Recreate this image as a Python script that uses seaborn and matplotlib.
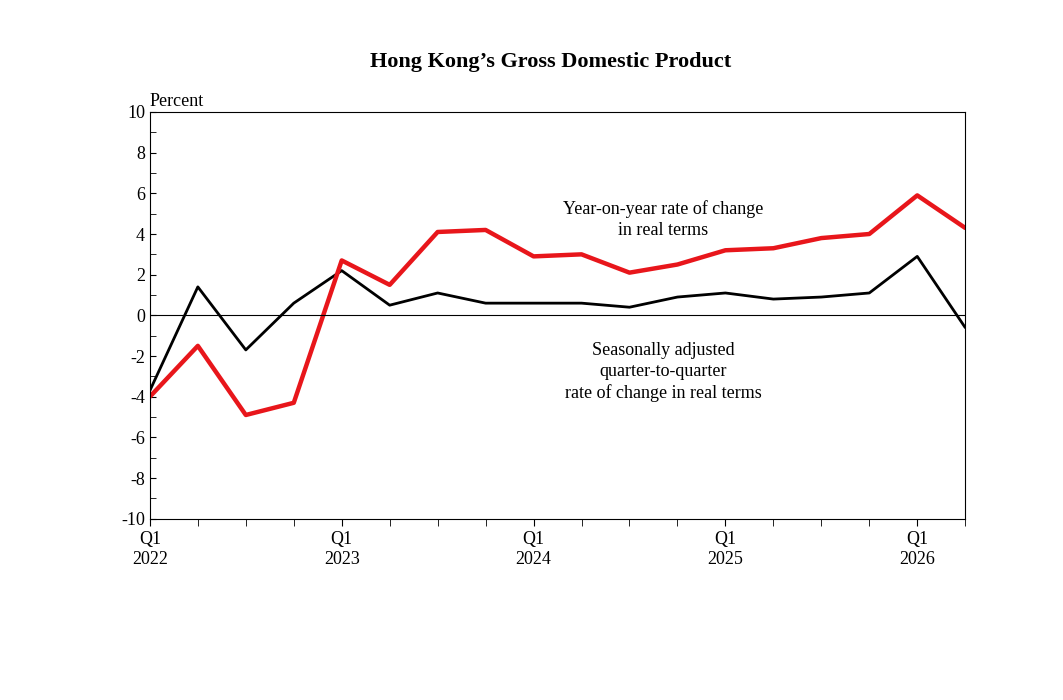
import numpy as np
import pandas as pd
import seaborn as sns
import matplotlib.pyplot as plt
from matplotlib.ticker import MultipleLocator

quarters = ["2022Q1", "2022Q2", "2022Q3", "2022Q4", "2023Q1", "2023Q2", "2023Q3", "2023Q4",
            "2024Q1", "2024Q2", "2024Q3", "2024Q4", "2025Q1", "2025Q2", "2025Q3", "2025Q4",
            "2026Q1", "2026Q2"]
yoy = [-4.0, -1.5, -4.9, -4.3, 2.7, 1.5, 4.1, 4.2, 2.9, 3.0, 2.1, 2.5, 3.2, 3.3, 3.8, 4.0, 5.9, 4.3]
qoq = [-3.7, 1.4, -1.7, 0.6, 2.2, 0.5, 1.1, 0.6, 0.6, 0.6, 0.4, 0.9, 1.1, 0.8, 0.9, 1.1, 2.9, -0.6]
tick_labels = ["Q1\n2022", "Q1\n2023", "Q1\n2024", "Q1\n2025", "Q1\n2026"]

sns.set_style("white")
plt.rcParams['font.family'] = ['Liberation Serif', 'DejaVu Serif']
plt.rcParams['axes.unicode_minus'] = False
plt.rcParams['text.color'] = 'black'
plt.rcParams['xtick.color'] = 'black'
plt.rcParams['ytick.color'] = 'black'

df = pd.DataFrame({"idx": np.arange(len(quarters)), "yoy": yoy, "qoq": qoq})

fig = plt.figure(figsize=(10.63, 7), dpi=100)
ax = fig.add_axes([0.141, 0.259, 0.767, 0.581])
sns.lineplot(data=df, x="idx", y="qoq", color="black", linewidth=2, ax=ax)
sns.lineplot(data=df, x="idx", y="yoy", color="#e8161b", linewidth=3.2, ax=ax)
ax.axhline(0, color="black", linewidth=0.8)

ax.set_xlim(0, len(quarters) - 1)
ax.set_ylim(-10, 10)
ax.yaxis.set_major_locator(MultipleLocator(2))
ax.yaxis.set_minor_locator(MultipleLocator(1))
ax.set_xticks(np.arange(len(quarters)), minor=True)
ax.set_xticks([0, 4, 8, 12, 16])
ax.set_xticklabels(tick_labels, linespacing=1.3)
ax.tick_params(axis="y", which="both", direction="in", left=True, labelsize=13, length=4)
ax.tick_params(axis="x", which="both", direction="out", bottom=True, labelsize=13, length=5)
ax.set_xlabel("")
ax.set_ylabel("")
for s in ax.spines.values():
    s.set_color("black")
    s.set_linewidth(0.8)

ax.text(0.0, 10.1, "Percent", fontsize=13, va="bottom")
ax.text(10.7, 4.7, "Year-on-year rate of change\nin real terms", fontsize=13, ha="center", va="center",
        linespacing=1.3)
ax.text(10.7, -2.8, "Seasonally adjusted\nquarter-to-quarter\nrate of change in real terms", fontsize=13,
        ha="center", va="center", linespacing=1.3)
fig.text(0.518, 0.912, "Hong Kong\u2019s Gross Domestic Product", fontsize=16, fontweight="bold",
         ha="center", va="center")

fig.savefig("out.png", dpi=100, facecolor="white")
